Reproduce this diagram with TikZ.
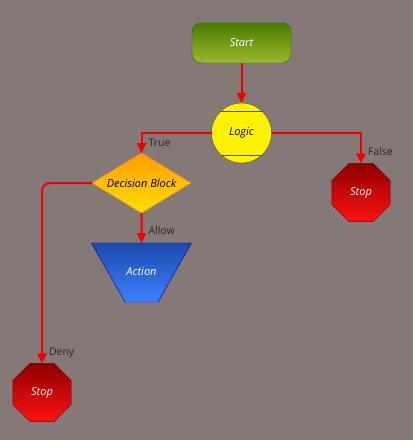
\documentclass[tikz,border=0pt]{standalone}
\usepackage{fontspec}
\setmainfont{Open Sans}
\usepackage{xcolor}
\usetikzlibrary{shapes.geometric, arrows.meta, positioning}
\definecolor{bgcol}{HTML}{857978}
\definecolor{startTop}{HTML}{4A7C00}
\definecolor{startBot}{HTML}{9CB82C}
\definecolor{startLine}{HTML}{2E6400}
\definecolor{decTop}{HTML}{FF9C00}
\definecolor{decBot}{HTML}{FFE000}
\definecolor{actTop}{HTML}{1C4AAE}
\definecolor{actBot}{HTML}{3F80FF}
\definecolor{stopTop}{HTML}{8E0000}
\definecolor{stopBot}{HTML}{FF1212}
\definecolor{lineRed}{HTML}{F00000}
\tikzset{
    startstop/.style={rectangle, rounded corners=9pt, minimum width=99pt, minimum height=40pt, text centered, draw=startLine, top color=startTop, bottom color=startBot, text=white, font=\itshape\fontsize{11}{13}\selectfont},
    logicbox/.style={circle, minimum size=60pt, inner sep=0pt, draw=black!70, fill=yellow, font=\itshape\fontsize{11}{13}\selectfont},
    decision/.style={diamond, aspect=1.65, minimum width=99pt, minimum height=60pt, inner sep=0pt, draw=orange!90!yellow, top color=decTop, bottom color=decBot, font=\itshape\fontsize{11}{13}\selectfont},
    process/.style={trapezium, trapezium left angle=60.4, trapezium right angle=60.4, shape border rotate=180, text width=33pt, align=center, text height=8pt, text depth=3pt, inner xsep=0pt, inner ysep=24pt, draw=blue!60!black, top color=actTop, bottom color=actBot, text=white, font=\itshape\fontsize{11}{13}\selectfont},
    stopbox/.style={regular polygon, regular polygon sides=8, minimum size=63pt, inner sep=0pt, draw=red!45!black, top color=stopTop, bottom color=stopBot, text=white, font=\itshape\fontsize{11}{13}\selectfont},
    lbl/.style={anchor=west, inner sep=0pt, xshift=7pt, text=black!85, font=\fontsize{10.5}{12}\selectfont},
    arrow/.style={line width=2pt, draw=lineRed, ->, >={Triangle[width=9pt,length=10pt]}}
}
\begin{document}
\begin{tikzpicture}[x=1pt, y=-1pt, outer sep=0pt]
    \fill[bgcol] (0,0) rectangle (413,440);
    \useasboundingbox (0,0) rectangle (413,440);

    \node (start) [startstop] at (241.5,43) {Start};
    \node (logic) [logicbox, below=40pt of start] {Logic};
    \draw[black!70] (logic.47) -- (logic.133);
    \draw[black!70] (logic.-47) -- (logic.-133);
    \node (dec) [decision] at (141.5,183) {Decision Block};
    \node (stopA) [stopbox] at (361,192.5) {Stop};
    \node (action) [process, below=30pt of dec] {Action};
    \node (stopB) [stopbox] at (42,392.5) {Stop};

    \draw [arrow] (start) -- (logic);
    \draw [arrow] (logic.west) -| node[lbl, pos=0.75] {True} (dec.north);
    \draw [arrow] (logic.east) -| node[lbl, pos=0.8] {False} (stopA.north);
    \draw [arrow] (dec) -- node[lbl, pos=0.6] {Allow} (action);
    \draw [arrow, rounded corners=8pt] (dec.west) -| node[lbl, pos=0.97] {Deny} (stopB.north);
\end{tikzpicture}
\end{document}
